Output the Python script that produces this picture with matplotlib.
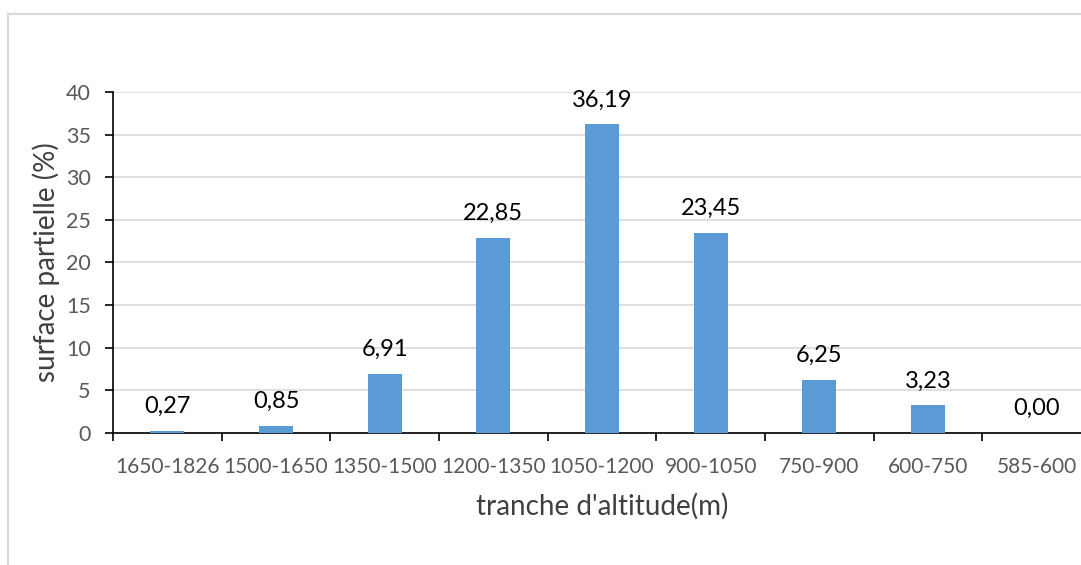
# surface partielle par tranche d'altitude

import numpy as np
import matplotlib.pyplot as plt
from matplotlib.lines import Line2D

tranches = ['1650-1826', '1500-1650', '1350-1500', '1200-1350', '1050-1200',
            '900-1050', '750-900', '600-750', '585-600']
surface = [0.27, 0.85, 6.91, 22.85, 36.19, 23.45, 6.25, 3.23, 0.00]

plt.rcParams['font.family'] = ['Lato', 'DejaVu Sans']

fig = plt.figure(figsize=(10.81, 5.65), dpi=100)
ax = fig.add_axes([113 / 1081, 132 / 565, 978 / 1081, 341 / 565])

x = np.arange(len(tranches))
bars = ax.bar(x, surface, width=0.31, color='#5B9BD5', zorder=3)

# labels above each bar, french decimal comma
for bar, v in zip(bars, surface):
    ax.annotate(f'{v:.2f}'.replace('.', ','),
                (bar.get_x() + bar.get_width() / 2, bar.get_height()),
                xytext=(0, 10), textcoords='offset points',
                ha='center', va='bottom', fontsize=17, color='black')

ax.set_xlim(-0.5, len(tranches) - 0.5)
ax.set_ylim(0, 40)
ax.set_yticks(range(0, 41, 5))
ax.yaxis.grid(True, color='#D9D9D9', linewidth=1.2, zorder=0)

ax.set_xticks(x)
ax.set_xticklabels(tranches)
ax.set_xticks(np.arange(-0.5, len(tranches)), minor=True)
ax.tick_params(axis='x', which='major', length=0, pad=17, labelsize=15, labelcolor='#595959')
ax.tick_params(axis='x', which='minor', length=6, width=1.2, color='black')
ax.tick_params(axis='y', length=6, width=1.2, pad=10, labelsize=15.5, labelcolor='#595959')

for s in ['top', 'right']:
    ax.spines[s].set_visible(False)
ax.spines['left'].set_linewidth(1.2)
ax.spines['bottom'].set_linewidth(1.2)

ax.set_xlabel("tranche d'altitude(m)", fontsize=20, color='#404040', labelpad=12)
ax.set_ylabel('surface partielle (%)', fontsize=20, color='#404040', labelpad=4)

# chart area border (cropped on the right and bottom)
fig.add_artist(Line2D([8 / 1081, 1], [1 - 14 / 565, 1 - 14 / 565], color='#D9D9D9', lw=1.5))
fig.add_artist(Line2D([8 / 1081, 8 / 1081], [0, 1 - 14 / 565], color='#D9D9D9', lw=1.5))

fig.savefig('out.png', dpi=100)
